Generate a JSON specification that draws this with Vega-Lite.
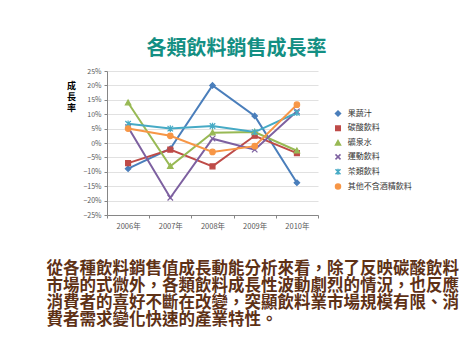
{
  "$schema": "https://vega.github.io/schema/vega-lite/v6.json",
  "width": 211,
  "height": 144,
  "autosize": {"type": "none"},
  "padding": {"left": 107, "top": 71, "right": 156, "bottom": 140},
  "background": "white",
  "config": {
    "view": {"stroke": null},
    "font": "Noto Sans CJK TC",
    "legend": {"orient": "none", "legendX": 227, "legendY": 38.5}
  },
  "title": {
    "text": "各類飲料銷售成長率",
    "anchor": "middle",
    "dx": 24,
    "offset": 8.5,
    "fontSize": 20,
    "font": "Noto Sans CJK TC",
    "fontWeight": "bold",
    "color": "#138F83"
  },
  "data": {
    "values": [
      {"year": "2006年", "series": "果蔬汁", "value": -0.089},
      {"year": "2007年", "series": "果蔬汁", "value": -0.02},
      {"year": "2008年", "series": "果蔬汁", "value": 0.20},
      {"year": "2009年", "series": "果蔬汁", "value": 0.094},
      {"year": "2010年", "series": "果蔬汁", "value": -0.138},
      {"year": "2006年", "series": "碳酸飲料", "value": -0.07},
      {"year": "2007年", "series": "碳酸飲料", "value": -0.023},
      {"year": "2008年", "series": "碳酸飲料", "value": -0.081},
      {"year": "2009年", "series": "碳酸飲料", "value": 0.025},
      {"year": "2010年", "series": "碳酸飲料", "value": -0.035},
      {"year": "2006年", "series": "礦泉水", "value": 0.14},
      {"year": "2007年", "series": "礦泉水", "value": -0.081},
      {"year": "2008年", "series": "礦泉水", "value": 0.036},
      {"year": "2009年", "series": "礦泉水", "value": 0.038},
      {"year": "2010年", "series": "礦泉水", "value": -0.027},
      {"year": "2006年", "series": "運動飲料", "value": 0.055},
      {"year": "2007年", "series": "運動飲料", "value": -0.19},
      {"year": "2008年", "series": "運動飲料", "value": 0.015},
      {"year": "2009年", "series": "運動飲料", "value": -0.023},
      {"year": "2010年", "series": "運動飲料", "value": 0.11},
      {"year": "2006年", "series": "茶類飲料", "value": 0.067},
      {"year": "2007年", "series": "茶類飲料", "value": 0.05},
      {"year": "2008年", "series": "茶類飲料", "value": 0.059},
      {"year": "2009年", "series": "茶類飲料", "value": 0.038},
      {"year": "2010年", "series": "茶類飲料", "value": 0.105},
      {"year": "2006年", "series": "其他不含酒精飲料", "value": 0.05},
      {"year": "2007年", "series": "其他不含酒精飲料", "value": 0.025},
      {"year": "2008年", "series": "其他不含酒精飲料", "value": -0.031},
      {"year": "2009年", "series": "其他不含酒精飲料", "value": -0.011},
      {"year": "2010年", "series": "其他不含酒精飲料", "value": 0.133}
    ]
  },
  "encoding": {
    "x": {
      "field": "year",
      "type": "ordinal",
      "scale": {"type": "band", "paddingInner": 0, "paddingOuter": 0},
      "axis": {
        "labelAngle": 0,
        "labelFontSize": 7.5,
        "labelColor": "#595959",
        "labelPadding": 4,
        "tickBand": "extent",
        "tickSize": 3,
        "tickColor": "#868686",
        "domainColor": "#868686",
        "title": [
          "從各種飲料銷售值成長動能分析來看，除了反映碳酸飲料",
          "市場的式微外，各類飲料成長性波動劇烈的情況，也反應",
          "消費者的喜好不斷在改變，突顯飲料業市場規模有限、消",
          "費者需求變化快速的產業特性。"
        ],
        "titleFontSize": 16.5,
        "titleFontWeight": "bold",
        "titleColor": "#5E3116",
        "titleAnchor": "start",
        "titleAlign": "left",
        "titleBaseline": "top",
        "titleX": -61,
        "titleY": 45,
        "titleLineHeight": 17.2
      }
    },
    "y": {
      "field": "value",
      "type": "quantitative",
      "scale": {"domain": [-0.25, 0.25], "nice": false},
      "axis": {
        "values": [-0.25, -0.2, -0.15, -0.1, -0.05, 0, 0.05, 0.1, 0.15, 0.2, 0.25],
        "format": ".0%",
        "labelFontSize": 7,
        "labelColor": "#595959",
        "labelPadding": 3,
        "tickSize": 3,
        "tickColor": "#868686",
        "domainColor": "#868686",
        "gridColor": "#D9D9D9",
        "gridWidth": 0.8,
        "title": ["成", "長", "率"],
        "titleAngle": 0,
        "titleX": -36,
        "titleY": 10,
        "titleAlign": "center",
        "titleBaseline": "top",
        "titleFontSize": 9,
        "titleFontWeight": "bold",
        "titleLineHeight": 11,
        "titleColor": "#000000"
      }
    }
  },
  "layer": [
    {
      "mark": {"type": "rule", "color": "#000000", "strokeDash": [5, 3], "strokeWidth": 1.5},
      "encoding": {"y": {"datum": 0}}
    },
    {
      "mark": {"type": "line", "strokeWidth": 2},
      "encoding": {
        "color": {
          "field": "series",
          "type": "nominal",
          "scale": {
            "domain": ["果蔬汁", "碳酸飲料", "礦泉水", "運動飲料", "茶類飲料", "其他不含酒精飲料"],
            "range": ["#4A7EBB", "#BE4B48", "#98B954", "#7D60A0", "#46AAC5", "#F79646"]
          },
          "legend": {
            "title": null,
            "labelFontSize": 8,
            "labelColor": "#333333",
            "symbolSize": 25,
            "rowPadding": 2.8,
            "labelOffset": 5.8
          }
        }
      }
    },
    {
      "mark": {"type": "point", "filled": true, "size": 30, "opacity": 1, "strokeWidth": 1.2},
      "encoding": {
        "color": {
          "field": "series",
          "type": "nominal",
          "legend": {
            "title": null,
            "labelFontSize": 8,
            "labelColor": "#333333",
            "symbolSize": 25,
            "rowPadding": 2.8,
            "labelOffset": 5.8
          }
        },
        "stroke": {
          "field": "series",
          "type": "nominal",
          "scale": {
            "domain": ["果蔬汁", "碳酸飲料", "礦泉水", "運動飲料", "茶類飲料", "其他不含酒精飲料"],
            "range": ["#4A7EBB", "#BE4B48", "#98B954", "#7D60A0", "#46AAC5", "#F79646"]
          },
          "legend": null
        },
        "shape": {
          "field": "series",
          "type": "nominal",
          "scale": {
            "domain": ["果蔬汁", "碳酸飲料", "礦泉水", "運動飲料", "茶類飲料", "其他不含酒精飲料"],
            "range": [
              "M0,-1L1,0L0,1L-1,0Z",
              "M-0.9,-0.9H0.9V0.9H-0.9Z",
              "M0,-1L1,0.8H-1Z",
              "M-1,-1L1,1M-1,1L1,-1",
              "M-1,-1L1,1M-1,1L1,-1M0,-1.2V1.2",
              "M1,0A1,1 0 1,1 -1,0A1,1 0 1,1 1,0Z"
            ]
          },
          "legend": null
        }
      }
    },
    {
      "data": {"values": [{"note": "資料來源：經濟部統計處"}]},
      "mark": {"type": "text", "align": "left", "baseline": "middle", "dx": -68, "dy": 26, "fontSize": 8, "color": "#222222"},
      "encoding": {
        "x": {"datum": "2006年"},
        "y": {"datum": -0.25},
        "text": {"field": "note"}
      }
    },
    {
      "data": {"values": [{"note": "圖三"}]},
      "mark": {"type": "text", "align": "center", "baseline": "middle", "dx": 113, "dy": 14, "fontSize": 6, "color": "#888888"},
      "encoding": {
        "x": {"datum": "2010年"},
        "y": {"datum": -0.25},
        "text": {"field": "note"}
      }
    }
  ]
}
